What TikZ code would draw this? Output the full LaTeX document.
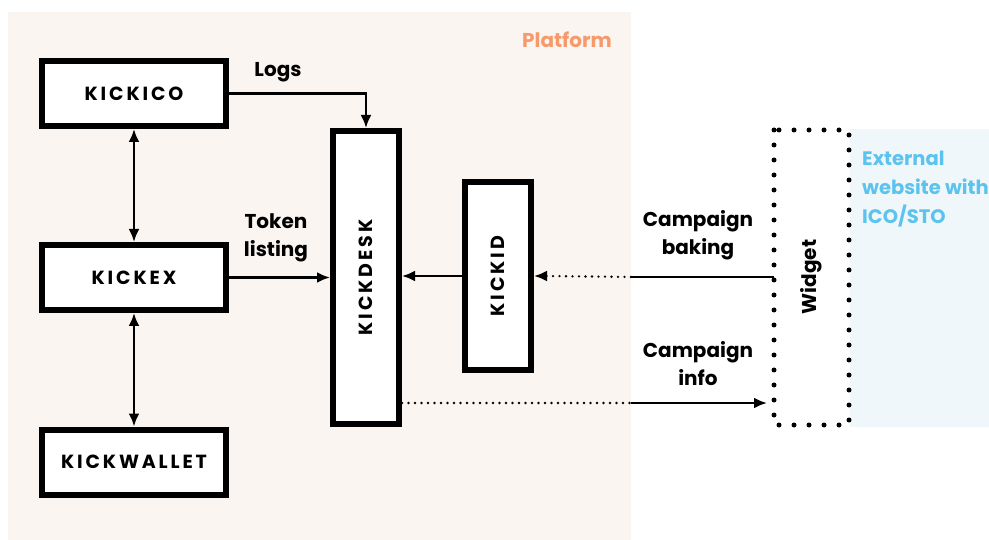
\documentclass[tikz,border=0pt]{standalone}
\usepackage{fontspec}
\setmainfont{Poppins}
\newfontfamily\boxfont[LetterSpace=15]{Poppins}
\usepackage{xcolor}
\usetikzlibrary{arrows.meta}
\definecolor{platformbg}{HTML}{FAF5F1}
\definecolor{externalbg}{HTML}{F0F7FB}
\definecolor{platformtxt}{HTML}{F79A6B}
\definecolor{externaltxt}{HTML}{5BC3EE}

\begin{document}
\begin{tikzpicture}[x=1pt,y=-1pt,
    module/.style={draw,line width=6pt,fill=white,inner sep=0pt,
      font=\boxfont\bfseries\fontsize{19}{22}\selectfont},
    lbl/.style={align=center,font=\bfseries\fontsize{20}{28}\selectfont},
    conn/.style={line width=2.8pt},
    dots/.style={line width=2.6pt,line cap=round,dash pattern=on 0pt off 6.5pt},
    tip/.style={-{Latex[length=13pt,width=11pt]}},
    tips/.style={{Latex[length=13pt,width=11pt]}-{Latex[length=13pt,width=11pt]}}]
    \useasboundingbox (0,0) rectangle (989,540);
    \fill[platformbg] (8,12) rectangle (631,540);
    \fill[externalbg] (850,129) rectangle (989,427);
    \node[text=platformtxt,font=\bfseries\fontsize{20}{24}\selectfont] at (567,40) {Platform};
    \node[anchor=north west,align=left,text=externaltxt,inner sep=0pt,
      font=\bfseries\fontsize{19.5}{29}\selectfont] at (862,151) {External\\website with\\ICO/STO};

    \node[module,minimum width=184,minimum height=65] (kickico) at (134,93.5) {KICKICO};
    \node[module,minimum width=184,minimum height=65] (kickex) at (134,277.5) {KICKEX};
    \node[module,minimum width=184,minimum height=65] (kickwallet) at (134,462) {KICKWALLET};
    \node[module,minimum width=66,minimum height=293] (kickdesk) at (366,277.5) {\rotatebox{90}{KICKDESK}};
    \node[module,minimum width=66,minimum height=188] (kickid) at (498,276) {\rotatebox{90}{KICKID}};
    \draw[line width=5pt,line cap=round,dash pattern=on 0pt off 15pt]
      (774,130) rectangle (849,425);
    \node[font=\bfseries\fontsize{20}{24}\selectfont] (widget) at (811,277) {\rotatebox{90}{Widget}};

    \coordinate (wleft) at (774,277);
    \coordinate (wtip) at (767,403);
    \coordinate (edgein) at (631,277);
    \coordinate (edgeout) at (631,403);

    \draw[conn,tips] (kickico) -- (kickex);
    \draw[conn,tips] (kickex) -- (kickwallet);
    \draw[conn,tip] (kickico.east) -| (kickdesk.north);
    \node[lbl] at (278,72) {Logs};
    \draw[conn,tip] (kickex.east) -- (kickdesk.west |- kickex.east);
    \node[lbl] at (276,238) {Token\\listing};
    \draw[conn,tip] (kickid.west) -- (kickdesk.east |- kickid.west);
    \draw[conn] (wleft) -- (edgein);
    \draw[dots] (edgein) -- ([xshift=12pt]kickid.east);
    \draw[conn,tip] ([xshift=13pt]kickid.east) -- (kickid.east);
    \node[lbl] at (698,235) {Campaign\\baking};
    \draw[dots] (kickdesk.east |- edgeout) -- (edgeout);
    \draw[conn,tip] (edgeout) -- (wtip);
    \node[lbl] at (698,364) {Campaign\\info};
\end{tikzpicture}
\end{document}
